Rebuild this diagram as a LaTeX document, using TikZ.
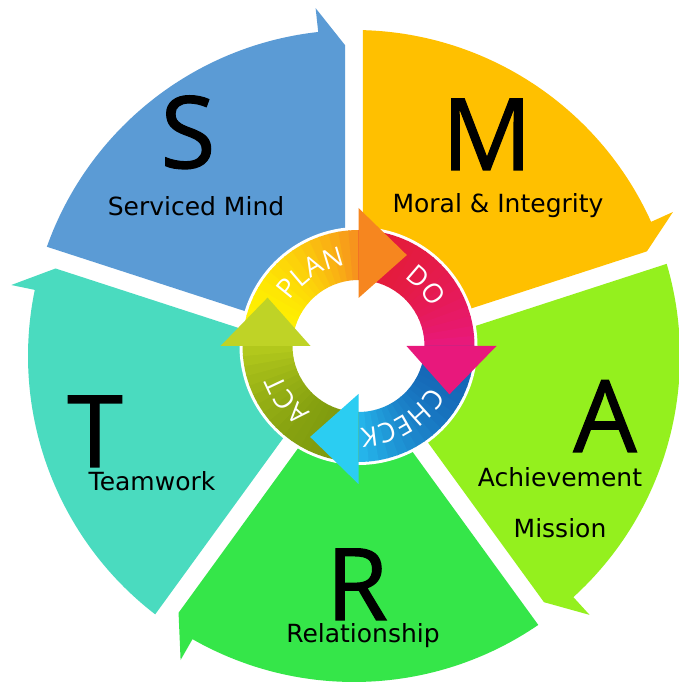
\documentclass[tikz,border=0pt]{standalone}
\usepackage{fontspec}
\usetikzlibrary{decorations.text}
\newfontfamily\labelfont{DejaVu Sans}
\newfontfamily\bigfont[FakeBold=1.2]{Open Sans}
\newfontfamily\ringfont{Open Sans}
\definecolor{segS}{HTML}{5B9BD5}
\definecolor{segM}{HTML}{FFC000}
\definecolor{segA}{HTML}{94F01E}
\definecolor{segR}{HTML}{35E649}
\definecolor{segT}{HTML}{4ADBBF}
\definecolor{planA}{HTML}{FFF200}
\definecolor{planB}{HTML}{F7941D}
\definecolor{planH}{HTML}{F6861F}
\definecolor{doA}{HTML}{E41B3A}
\definecolor{doB}{HTML}{E8197A}
\definecolor{doH}{HTML}{E8187C}
\definecolor{chA}{HTML}{1565B5}
\definecolor{chB}{HTML}{25B4EA}
\definecolor{chH}{HTML}{2BCDF2}
\definecolor{actA}{HTML}{7E9A0E}
\definecolor{actB}{HTML}{B2C81C}
\definecolor{actH}{HTML}{BFD326}
\newcommand\SegPath{(36:15.3) -- (310.87,9) -- (6.3:350) -- (6.3:326) arc[start angle=6.3, end angle=70.42, radius=326] -- cycle}
\tikzset{
  bigtxt/.style={font=\bigfont\fontsize{100}{100}\selectfont, text=black, inner sep=0pt, anchor=base},
  subtxt/.style={font=\labelfont\fontsize{25}{25}\selectfont, text=black, inner sep=0pt, anchor=base},
  ringtxt/.style={decorate, decoration={text along path, text align=center, text color=white,
     text={|\ringfont\fontsize{27}{27}\selectfont|#1}}}
}
\begin{document}
\begin{tikzpicture}[x=1pt,y=1pt]
\path[use as bounding box, fill=white] (0,0) rectangle (678,686);
% five segments
\begin{scope}[shift={(354,330)}]
  \fill[segS, rotate=90] \SegPath;
  \fill[segM, rotate=18] \SegPath;
  \fill[segA, rotate=-54] \SegPath;
  \fill[segR, rotate=-126] \SegPath;
  \fill[segT, rotate=162] \SegPath;
\end{scope}
% PDCA ring
\begin{scope}[shift={(358.5,340)}]
  \fill[white] (0,0) circle[radius=119];
  \foreach \angA/\angB/\colA/\colB in {180/90/planA/planB, 90/0/doA/doB, 0/-90/chA/chB, -90/-180/actA/actB} {
    \foreach \i in {0,...,17} {
      \pgfmathtruncatemacro\pp{100*(\i/17)^2}
      \pgfmathsetmacro\sa{\angA-(\angA-\angB)*\i/18}
      \pgfmathsetmacro\ea{\angA-(\angA-\angB)*(\i+1)/18-0.6}
      \fill[\colB!\pp!\colA] (\sa:66) arc[start angle=\sa, end angle=\ea, radius=66]
        -- (\ea:116) arc[start angle=\ea, end angle=\sa, radius=116] -- cycle;
    }
  }
  \fill[planH] (90:48) -- (62:103) -- (90:138) -- cycle;
  \fill[doH] (0:48) -- (-28:103) -- (0:138) -- cycle;
  \fill[chH] (-90:48) -- (-118:103) -- (-90:138) -- cycle;
  \fill[actH] (180:48) -- (152:103) -- (180:138) -- cycle;
  \path[ringtxt=PLAN] (158:82) arc[start angle=158, end angle=88, radius=82];
  \path[ringtxt=DO] (77:82) arc[start angle=77, end angle=7, radius=82];
  \path[ringtxt=CHECK] (-12:82) arc[start angle=-12, end angle=-106, radius=82];
  \path[ringtxt=ACT] (-98:82) arc[start angle=-98, end angle=-188, radius=82];
\end{scope}
% letters
\node[bigtxt] (S) at (188,518) {S};
\node[bigtxt] (M) at (487,516) {M};
\node[bigtxt] (A) at (605,234) {A};
\node[bigtxt] (R) at (357,66) {R};
\node[bigtxt] (T) at (95,219) {T};
% labels
\node[subtxt] (sm) at (196,470) {Serviced Mind};
\node[subtxt] (mi) at (498,473) {Moral \& Integrity};
\node[subtxt] (ach) at (560,199) {Achievement};
\node[subtxt] (mis) at (560,148) {Mission};
\node[subtxt] (rel) at (363,43) {Relationship};
\node[subtxt] (tw) at (152,195) {Teamwork};
\end{tikzpicture}
\end{document}
